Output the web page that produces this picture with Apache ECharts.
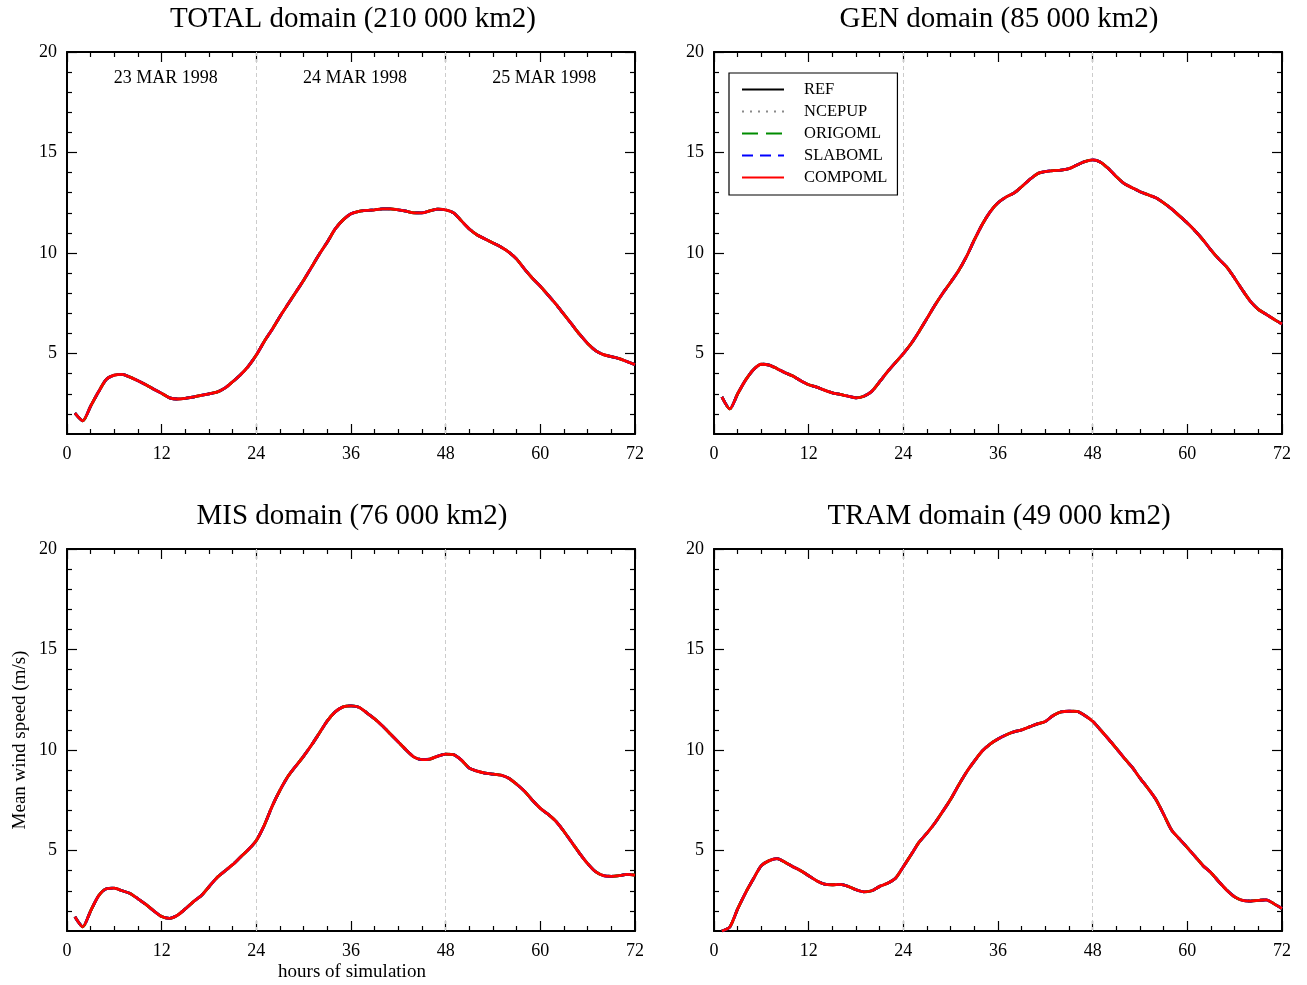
<!DOCTYPE html>
<html>
<head>
<meta charset="utf-8">
<script src="https://cdn.jsdelivr.net/npm/echarts@6/dist/echarts.min.js"></script>
<style>
  html, body { margin: 0; padding: 0; background: #fff; }
  #chart { width: 1307px; height: 985px; }
</style>
</head>
<body>
<div id="chart"></div>
<script>
// hours of simulation (x values shared by every curve)
const hours = [1, 2, 3, 4, 5, 6, 7, 8, 9, 10, 11, 12, 13, 14, 15, 16, 17, 18, 19, 20, 21, 22, 23, 24,
  25, 26, 27, 28, 29, 30, 31, 32, 33, 34, 35, 36, 37, 38, 39, 40, 41, 42, 43, 44, 45, 46, 47, 48,
  49, 50, 51, 52, 53, 54, 55, 56, 57, 58, 59, 60, 61, 62, 63, 64, 65, 66, 67, 68, 69, 70, 71, 72]

// mean wind speed (m/s) per domain; the five runs coincide
const totalWind = [2.04, 1.66, 2.39, 3.1, 3.72, 3.93, 3.97, 3.83, 3.65, 3.45, 3.23, 3.02, 2.8, 2.74, 2.77, 2.84, 2.92, 3.0, 3.08, 3.28, 3.6, 3.95, 4.38, 4.93,
  5.6, 6.2, 6.85, 7.45, 8.05, 8.65, 9.3, 9.95, 10.55, 11.2, 11.65, 11.95, 12.07, 12.12, 12.15, 12.2, 12.2, 12.15, 12.08, 12.0, 12.0, 12.1, 12.18, 12.15,
  12.0, 11.6, 11.2, 10.9, 10.7, 10.5, 10.3, 10.05, 9.7, 9.2, 8.75, 8.35, 7.9, 7.45, 6.95, 6.45, 5.95, 5.5, 5.15, 4.95, 4.85, 4.75, 4.6, 4.45]
const genWind = [2.85, 2.25, 3.0, 3.68, 4.2, 4.47, 4.43, 4.25, 4.05, 3.88, 3.65, 3.45, 3.33, 3.18, 3.05, 2.97, 2.88, 2.8, 2.88, 3.12, 3.6, 4.1, 4.55, 5.0,
  5.5, 6.1, 6.75, 7.4, 8.0, 8.55, 9.12, 9.82, 10.65, 11.42, 12.05, 12.5, 12.78, 12.98, 13.3, 13.65, 13.95, 14.05, 14.1, 14.13, 14.2, 14.38, 14.55, 14.63,
  14.52, 14.2, 13.8, 13.45, 13.25, 13.05, 12.9, 12.75, 12.5, 12.2, 11.85, 11.5, 11.1, 10.65, 10.15, 9.7, 9.3, 8.75, 8.15, 7.6, 7.2, 6.95, 6.7, 6.47]
const misWind = [1.71, 1.21, 2.0, 2.75, 3.1, 3.13, 3.0, 2.87, 2.6, 2.32, 2.0, 1.72, 1.63, 1.78, 2.1, 2.45, 2.75, 3.2, 3.65, 3.98, 4.3, 4.68, 5.05, 5.5,
  6.25, 7.2, 8.0, 8.68, 9.2, 9.7, 10.25, 10.85, 11.45, 11.9, 12.15, 12.2, 12.13, 11.85, 11.55, 11.2, 10.8, 10.4, 10.0, 9.65, 9.52, 9.55, 9.7, 9.8,
  9.77, 9.5, 9.1, 8.95, 8.85, 8.8, 8.75, 8.6, 8.3, 7.95, 7.5, 7.1, 6.8, 6.45, 5.95, 5.4, 4.85, 4.35, 3.95, 3.75, 3.72, 3.75, 3.82, 3.78]
const tramWind = [1.0, 1.2, 2.1, 2.9, 3.6, 4.25, 4.5, 4.6, 4.42, 4.2, 4.0, 3.75, 3.5, 3.33, 3.3, 3.32, 3.22, 3.05, 2.95, 3.0, 3.22, 3.37, 3.62, 4.2,
  4.8, 5.42, 5.87, 6.37, 6.95, 7.55, 8.25, 8.9, 9.45, 9.95, 10.3, 10.55, 10.75, 10.9, 11.0, 11.15, 11.3, 11.42, 11.72, 11.9, 11.93, 11.92, 11.72, 11.43,
  11.0, 10.55, 10.08, 9.6, 9.15, 8.6, 8.1, 7.55, 6.8, 6.02, 5.58, 5.15, 4.7, 4.25, 3.9, 3.45, 3.03, 2.7, 2.52, 2.49, 2.52, 2.55, 2.35, 2.12]

const panelTitles = ['TOTAL domain (210 000 km2)', 'GEN domain (85 000 km2)', 'MIS domain (76 000 km2)', 'TRAM domain (49 000 km2)']
const panelWind = [totalWind, genWind, misWind, tramWind]

const models = ['REF', 'NCEPUP', 'ORIGOML', 'SLABOML', 'COMPOML']
const modelColors = ['#000000', '#8a8a8a', '#008c00', '#0000ff', '#ff0000']
const modelDash = ['solid', [2, 6], [16, 8], [11, 7], 'solid']

const dayLabels = ['23 MAR 1998', '24 MAR 1998', '25 MAR 1998']
const dayCentres = [12, 36, 60]
const dayBreaks = [24, 48]

const yMajor = [5, 10, 15, 20]
const yMinor = [2, 3, 4, 6, 7, 8, 9, 11, 12, 13, 14, 16, 17, 18, 19]

const font = '"Liberation Serif", "DejaVu Serif", serif'
const panels = [
  { left: 67, top: 52, cx: 348 },
  { left: 714, top: 52, cx: 994 },
  { left: 67, top: 549, cx: 347 },
  { left: 714, top: 549, cx: 994 },
]

const black = { color: '#000', width: 1.2 }
const grid = [], xAxis = [], yAxis = [], series = [], title = []

panels.forEach((p, g) => {
  grid.push({ left: p.left, top: p.top, width: 568, height: 382 })
  title.push({
    text: panelTitles[g], left: p.cx, top: p.top - 52, textAlign: 'center',
    textStyle: { fontFamily: font, fontSize: 29, fontWeight: 'normal', color: '#000' },
  })

  const xBase = { gridIndex: g, type: 'value', min: 0, max: 72, interval: 12, splitLine: { show: false } }
  xAxis.push({
    ...xBase, position: 'bottom',
    axisLine: { lineStyle: { color: '#000', width: 2 } },
    axisTick: { inside: true, length: 10, lineStyle: black },
    minorTick: { show: true, splitNumber: 4, length: 5, lineStyle: black },
    axisLabel: { fontFamily: font, fontSize: 18, color: '#000', margin: 11 },
  })
  xAxis.push({
    ...xBase, position: 'top',
    axisLine: { lineStyle: { color: '#000', width: 2 } },
    axisTick: { inside: true, length: 10, lineStyle: black },
    minorTick: { show: true, splitNumber: 4, length: 5, lineStyle: black },
    axisLabel: { show: false },
  })

  const yBase = { gridIndex: g, type: 'value', min: 1, max: 20, splitLine: { show: false } }
  for (const pos of ['left', 'right']) {
    yAxis.push({
      ...yBase, position: pos,
      axisLine: { show: true, lineStyle: { color: '#000', width: 2 } },
      axisTick: { inside: true, length: 10, lineStyle: black, customValues: yMajor },
      axisLabel: pos === 'left'
        ? { customValues: yMajor, fontFamily: font, fontSize: 18, color: '#000', margin: 10 }
        : { show: false },
    })
    yAxis.push({
      ...yBase, position: pos,
      axisLine: { show: false },
      axisTick: { inside: true, length: 5, lineStyle: black, customValues: yMinor },
      axisLabel: { show: false },
    })
  }

  models.forEach((name, m) => {
    const s = {
      type: 'line', name, xAxisIndex: 2 * g, yAxisIndex: 4 * g,
      data: hours.map((h, i) => [h, panelWind[g][i]]),
      symbol: 'none', smooth: 0.25, silent: true,
      lineStyle: { color: modelColors[m], width: 2.8, type: modelDash[m] },
      itemStyle: { color: modelColors[m] },
      z: 3 + m,
    }
    if (m === 0) {
      s.markLine = {
        silent: true, symbol: 'none', label: { show: false },
        lineStyle: { color: '#cccccc', width: 1, type: [4, 3] },
        data: dayBreaks.map((h) => ({ xAxis: h })),
      }
    }
    series.push(s)
  })
})

// day names in the first panel
series.push({
  type: 'scatter', xAxisIndex: 0, yAxisIndex: 0, symbolSize: 0, silent: true,
  itemStyle: { opacity: 1 },
  data: dayCentres.map((h, i) => ({ value: [h, 18.7], label: { formatter: dayLabels[i] } })),
  label: { show: true, position: 'inside', offset: [4, 0], fontFamily: font, fontSize: 18, color: '#000' },
})

const chart = echarts.init(document.getElementById('chart'))
chart.setOption({
  animation: false,
  title,
  grid, xAxis, yAxis, series,
  legend: {
    data: models, orient: 'vertical', left: 729, top: 73,
    padding: [8, 10, 9, 12], itemGap: 5, itemWidth: 42, itemHeight: 14,
    itemStyle: { opacity: 0 },
    backgroundColor: '#fff', borderColor: '#000', borderWidth: 1.2,
    textStyle: { fontFamily: font, fontSize: 16.5, color: '#000', padding: [0, 0, 0, 15] },
    selectedMode: false,
  },
  graphic: [
    {
      type: 'text', x: 352, y: 972,
      style: { text: 'hours of simulation', font: '19px ' + font, fill: '#000', textAlign: 'center', textVerticalAlign: 'middle' },
    },
    {
      type: 'text', x: 20, y: 740, rotation: Math.PI / 2,
      style: { text: 'Mean wind speed (m/s)', font: '19px ' + font, fill: '#000', textAlign: 'center', textVerticalAlign: 'middle' },
    },
  ],
})
</script>
</body>
</html>
